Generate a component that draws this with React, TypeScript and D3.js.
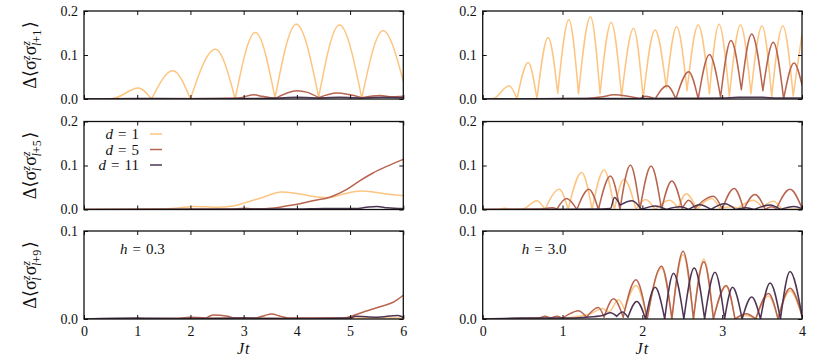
import React, { useEffect, useRef } from "react";
import * as d3 from "d3";

type Pt = [number, number];

const FONT = "'Liberation Serif', 'Times New Roman', Times, 'DejaVu Serif', 'Noto Serif', serif";

const xTicksLeft = [0, 1, 2, 3, 4, 5, 6];
const xTicksRight = [0, 1, 2, 3, 4];
const yTicksTall = [0, 0.1, 0.2];
const yTicksShort = [0, 0.1];
const distances = ["1", "5", "11"];
const bonds = ["1", "5", "9"];
const fields = ["0.3", "3.0"];
const colors = ["#fdc581", "#b86550", "#4d3452"];

// h = 0.3, <s_l s_l+1>
const h03b1d1: Pt[] = [[0, 0], [0.4, 0], [0.6, 0.003], [1.02, 0.025], [1.27, 0], [1.67, 0.064], [2.0, 0], [2.47, 0.113], [2.84, 0], [3.22, 0.151], [3.59, 0.002], [3.99, 0.17], [4.41, 0.004], [4.8, 0.168], [5.22, 0.002], [5.62, 0.155], [6.0, 0.04]];
const h03b1d5: Pt[] = [[0, 0], [2.4, 0.001], [2.9, 0.002], [3.18, 0.0098], [3.35, 0.006], [3.59, 0.001], [4.0, 0.019], [4.2, 0.015], [4.41, 0.003], [4.75, 0.0135], [5.22, 0.003], [5.56, 0.008], [5.8, 0.005], [6.0, 0.006]];
const h03b1d11: Pt[] = [[0, 0], [1, 0.001], [2, 0.0005], [3, 0.001], [3.6, 0.002], [4, 0.004], [4.4, 0.002], [4.8, 0.004], [5.2, 0.002], [5.6, 0.004], [6, 0.003]];

// h = 3.0, <s_l s_l+1>
const h30b1d1: Pt[] = [[0, 0], [0.13, 0.001], [0.33, 0.03], [0.43, 0], [0.57, 0.083], [0.68, 0], [0.82, 0.14], [0.94, 0.013], [1.08, 0.18], [1.2, 0.012], [1.35, 0.187], [1.47, 0.012], [1.61, 0.174], [1.74, 0.006], [1.89, 0.16], [2.01, 0.0015], [2.16, 0.157], [2.3, 0.025], [2.43, 0.164], [2.56, 0.019], [2.7, 0.168], [2.84, 0.012], [2.96, 0.17], [3.09, 0.006], [3.23, 0.168], [3.36, 0.012], [3.5, 0.166], [3.62, 0.006], [3.76, 0.166], [3.89, 0.007], [4.0, 0.148]];
const h30b1d5: Pt[] = [[0, 0], [1.3, 0.001], [1.5, 0.005], [1.64, 0.0095], [1.8, 0.007], [1.97, 0.001], [2.04, 0.006], [2.16, 0], [2.31, 0.03], [2.42, 0], [2.58, 0.062], [2.7, 0], [2.84, 0.101], [2.98, 0.004], [3.11, 0.133], [3.24, 0.021], [3.37, 0.148], [3.51, 0.019], [3.64, 0.129], [3.77, 0], [3.9, 0.082], [4.0, 0.032]];
const h30b1d11: Pt[] = [[0, 0], [1.5, 0.001], [2, 0.001], [2.5, 0.0015], [3, 0.002], [3.2, 0.004], [3.5, 0.004], [3.7, 0.002], [4, 0.002]];

// h = 0.3, <s_l s_l+5>
const h03b5d1: Pt[] = [[0, 0], [1.5, 0.001], [1.8, 0.004], [2.05, 0.007], [2.5, 0.005], [2.8, 0.008], [3.02, 0.015], [3.37, 0.028], [3.71, 0.04], [4.06, 0.035], [4.43, 0.028], [4.62, 0.027], [4.87, 0.035], [5.22, 0.042], [5.43, 0.04], [5.75, 0.034], [6, 0.032]];
const h03b5d5: Pt[] = [[0, 0], [2.8, 0.001], [3.0, 0.003], [3.2, 0.001], [3.45, 0.002], [3.68, 0.005], [3.8, 0.008], [4.06, 0.013], [4.3, 0.02], [4.62, 0.028], [4.93, 0.045], [5.18, 0.065], [5.43, 0.083], [5.69, 0.098], [6, 0.114]];
const h03b5d11: Pt[] = [[0, 0], [2.5, 0.0005], [3, 0.001], [4, 0.001], [4.5, 0.002], [5.1, 0.002], [5.3, 0.005], [5.5, 0.007], [5.7, 0.004], [6, 0.002]];

// h = 3.0, <s_l s_l+5>
const h30b5d1: Pt[] = [[0, 0], [0.2, 0], [0.27, 0.003], [0.35, 0], [0.5, 0.001], [0.68, 0.02], [0.78, 0], [0.96, 0.046], [1.07, 0], [1.24, 0.084], [1.37, 0], [1.52, 0.09], [1.65, 0], [1.77, 0.069], [1.92, 0], [2.04, 0.023], [2.16, 0], [2.34, 0.021], [2.45, 0.003], [2.55, 0.036], [2.68, 0], [2.87, 0.025], [2.97, 0.002], [3.1, 0.006], [3.2, 0.003], [3.39, 0.021], [3.5, 0.005], [3.64, 0.019], [3.75, 0], [4, 0.001]];
const h30b5d5: Pt[] = [[0, 0], [0.7, 0.001], [0.87, 0.004], [0.93, 0.001], [1.05, 0.025], [1.18, 0], [1.33, 0.046], [1.45, 0], [1.6, 0.076], [1.72, 0], [1.85, 0.101], [1.97, 0], [2.11, 0.099], [2.24, 0], [2.37, 0.065], [2.5, 0.002], [2.58, 0.021], [2.66, 0.003], [2.89, 0.03], [3.0, 0.001], [3.15, 0.048], [3.27, 0], [3.41, 0.034], [3.54, 0], [3.62, 0.006], [3.68, 0.002], [3.85, 0.046], [4, 0.003]];
const h30b5d11: Pt[] = [[0, 0], [1.5, 0.001], [1.6, 0.002], [1.65, 0.027], [1.72, 0.01], [1.87, 0.02], [1.99, 0], [2.16, 0.008], [2.3, 0], [2.47, 0.006], [2.58, 0], [2.72, 0.011], [2.86, 0], [3.03, 0.013], [3.17, 0], [3.3, 0.004], [3.4, 0], [3.6, 0.01], [3.73, 0], [3.9, 0.007], [4, 0.002]];

// h = 0.3, <s_l s_l+9>
const h03b9d1: Pt[] = [[0, 0], [2, 0.0005], [3, 0.001], [4, 0.0005], [5, 0.001], [6, 0.001]];
const h03b9d5: Pt[] = [[0, 0], [1.7, 0.0005], [2.0, 0.002], [2.3, 0.001], [2.43, 0.0045], [2.7, 0.003], [2.85, 0.001], [3.2, 0.001], [3.4, 0.004], [3.52, 0.0057], [3.7, 0.003], [3.85, 0.001], [4.6, 0.001], [4.87, 0.001], [5.06, 0.004], [5.31, 0.009], [5.56, 0.014], [5.81, 0.019], [6, 0.027]];
const h03b9d11: Pt[] = [[0, 0], [1, 0.001], [2, 0.0005], [3, 0.001], [4, 0.0005], [5.0, 0.001], [5.1, 0.003], [5.5, 0.002], [5.9, 0.004], [6, 0.002]];

// h = 3.0, <s_l s_l+9>
const h30b9d1: Pt[] = [[0, 0], [1.0, 0.001], [1.2, 0.003], [1.35, 0.006], [1.5, 0.012], [1.58, 0.008], [1.7, 0.022], [1.78, 0.01], [1.92, 0.038], [2.06, 0], [2.24, 0.058], [2.37, 0], [2.51, 0.073], [2.64, 0], [2.77, 0.068], [2.89, 0], [3.05, 0.037], [3.16, 0], [3.3, 0.004], [3.42, 0], [3.58, 0.026], [3.7, 0], [3.85, 0.032], [4, 0.003]];
const h30b9d5: Pt[] = [[0, 0], [0.7, 0.001], [0.78, 0.003], [0.85, 0.001], [0.93, 0.003], [1.0, 0.001], [1.07, 0.005], [1.2, 0.0095], [1.3, 0.002], [1.45, 0.013], [1.52, 0.002], [1.64, 0.023], [1.76, 0.002], [1.92, 0.0445], [2.06, 0], [2.24, 0.06], [2.37, 0], [2.51, 0.077], [2.64, 0], [2.77, 0.065], [2.89, 0], [3.05, 0.038], [3.16, 0], [3.3, 0.006], [3.42, 0], [3.58, 0.029], [3.7, 0], [3.85, 0.035], [4, 0.004]];
const h30b9d11: Pt[] = [[0, 0], [0.5, 0.001], [1.0, 0.001], [1.3, 0.002], [1.5, 0.004], [1.6, 0.007], [1.68, 0.003], [1.75, 0.008], [1.82, 0.002], [1.93, 0.02], [2.04, 0], [2.16, 0.036], [2.28, 0], [2.39, 0.052], [2.52, 0], [2.65, 0.058], [2.78, 0], [2.91, 0.053], [3.03, 0], [3.13, 0.036], [3.25, 0], [3.37, 0.025], [3.48, 0], [3.6, 0.041], [3.73, 0], [3.85, 0.054], [4, 0.003]];

const panelW = 319.3;
const panelH = 88;
const colX = [84, 482.7];
const rowY = [11, 121.5, 231];

// the curves have sharp cusps at their minima: cut the series there
function cuspPieces(pts: Pt[]): Pt[][] {
  const pieces: Pt[][] = [];
  let cur: Pt[] = [pts[0]];
  for (let i = 1; i < pts.length; i++) {
    cur.push(pts[i]);
    if (i < pts.length - 1) {
      const lo = Math.min(pts[i - 1][1], pts[i + 1][1]);
      if (pts[i][1] < lo && pts[i][1] <= 0.5 * lo) {
        pieces.push(cur);
        cur = [pts[i]];
      }
    }
  }
  pieces.push(cur);
  return pieces;
}

function Panel({ id, x, y, xMax, xTicks, yMax, yTicks, series, showX }) {
  const bottomRef = useRef(null);
  const topRef = useRef(null);
  const leftRef = useRef(null);
  const rightRef = useRef(null);

  const xScale = d3.scaleLinear().domain([0, xMax]).range([0, panelW]);
  const yScale = d3.scaleLinear().domain([0, yMax]).range([panelH, 0]);

  useEffect(() => {
    const tidy = g => {
      g.attr("font-family", null).attr("font-size", null).attr("color", "#111");
      g.style("font-family", FONT).style("font-size", "14px");
      g.select(".domain").remove();
    };
    d3.select(bottomRef.current)
      .call(
        d3.axisBottom(xScale)
          .tickValues(xTicks)
          .tickSize(-4)
          .tickPadding(7)
          .tickFormat(showX ? d3.format("d") : () => "")
      )
      .call(tidy);
    d3.select(topRef.current)
      .call(d3.axisTop(xScale).tickValues(xTicks).tickSize(-4).tickFormat(() => ""))
      .call(tidy);
    d3.select(leftRef.current)
      .call(d3.axisLeft(yScale).tickValues(yTicks).tickSize(-4).tickPadding(6).tickFormat(d3.format(".1f")))
      .call(tidy);
    d3.select(rightRef.current)
      .call(d3.axisRight(yScale).tickValues(yTicks).tickSize(-4).tickFormat(() => ""))
      .call(tidy);
  }, [xScale, yScale, xTicks, yTicks, showX]);

  const line = d3
    .line<Pt>()
    .x(d => xScale(d[0]))
    .y(d => yScale(d[1]))
    .curve(d3.curveMonotoneX);

  return (
    <g transform={`translate(${x}, ${y})`}>
      <clipPath id={id}>
        <rect x={0} y={-1} width={panelW} height={panelH + 1} />
      </clipPath>
      <g clipPath={`url(#${id})`}>
        {series.map((s, i) => (
          <path
            key={i}
            d={cuspPieces(s).map(p => line(p)).join("")}
            fill="none"
            stroke={colors[i]}
            strokeWidth={1.5}
            strokeLinecap="round"
            strokeLinejoin="round"
          />
        ))}
      </g>
      <g ref={bottomRef} transform={`translate(0, ${panelH})`} />
      <g ref={topRef} />
      <g ref={leftRef} />
      <g ref={rightRef} transform={`translate(${panelW}, 0)`} />
      <rect width={panelW} height={panelH} fill="none" stroke="#111" strokeWidth={1.3} />
    </g>
  );
}

function YLabel({ cy, bond }) {
  return (
    <text
      transform={`translate(36, ${cy}) rotate(-90)`}
      textAnchor="middle"
      style={{ fontFamily: FONT, fontSize: "18px" }}
      fill="#111"
    >
      Δ⟨σ
      <tspan dy={-6.5} fontSize={12} fontStyle="italic">z</tspan>
      <tspan dx={-5} dy={11} fontSize={12} fontStyle="italic">l</tspan>
      <tspan dx={2} dy={-4.5}>σ</tspan>
      <tspan dy={-6.5} fontSize={12} fontStyle="italic">z</tspan>
      <tspan dx={-5} dy={11} fontSize={12} fontStyle="italic">l</tspan>
      <tspan fontSize={12}>+{bond}</tspan>
      <tspan dx={1.5} dy={-4.5}>⟩</tspan>
    </text>
  );
}

// math-style text: italic symbol, wide gaps around "="
function MathEq({ x, y, sym, value, anchor }) {
  return (
    <text x={x} y={y} textAnchor={anchor} style={{ fontFamily: FONT, fontSize: "15px" }} fill="#111">
      <tspan fontStyle="italic">{sym}</tspan>
      <tspan dx={5}>=</tspan>
      <tspan dx={5}>{value}</tspan>
    </text>
  );
}

export default function App() {
  const rows = [
    { yMax: 0.2, yTicks: yTicksTall, series: [[h03b1d1, h03b1d5, h03b1d11], [h30b1d1, h30b1d5, h30b1d11]] },
    { yMax: 0.2, yTicks: yTicksTall, series: [[h03b5d1, h03b5d5, h03b5d11], [h30b5d1, h30b5d5, h30b5d11]] },
    { yMax: 0.1, yTicks: yTicksShort, series: [[h03b9d1, h03b9d5, h03b9d11], [h30b9d1, h30b9d5, h30b9d11]] }
  ];

  return (
    <svg width={830} height={363} style={{ position: "absolute", left: 0, top: 0, background: "#fff" }}>
      {rows.map((r, ri) =>
        [0, 1].map(ci => (
          <Panel
            key={`${ri}-${ci}`}
            id={`clip-${ri}-${ci}`}
            x={colX[ci]}
            y={rowY[ri]}
            xMax={ci === 0 ? 6 : 4}
            xTicks={ci === 0 ? xTicksLeft : xTicksRight}
            yMax={r.yMax}
            yTicks={r.yTicks}
            series={r.series[ci]}
            showX={ri === 2}
          />
        ))
      )}

      {bonds.map((b, i) => (
        <YLabel key={b} bond={b} cy={rowY[i] + panelH / 2} />
      ))}

      {colX.map((cx, i) => (
        <text
          key={i}
          x={cx + panelW / 2}
          y={354}
          textAnchor="middle"
          style={{ fontFamily: FONT, fontSize: "16px" }}
          fontStyle="italic"
          letterSpacing={1}
          fill="#111"
        >
          Jt
        </text>
      ))}

      {/* legend */}
      {distances.map((d, i) => (
        <g key={d}>
          <MathEq x={139} y={139 + i * 15.5} sym="d" value={d} anchor="end" />
          <line x1={150} x2={162} y1={134 + i * 15.5} y2={134 + i * 15.5} stroke={colors[i]} strokeWidth={1.5} />
        </g>
      ))}

      {fields.map((f, i) => (
        <MathEq key={f} x={colX[i] + (i === 0 ? 36 : 39)} y={254} sym="h" value={f} anchor="start" />
      ))}
    </svg>
  );
}
